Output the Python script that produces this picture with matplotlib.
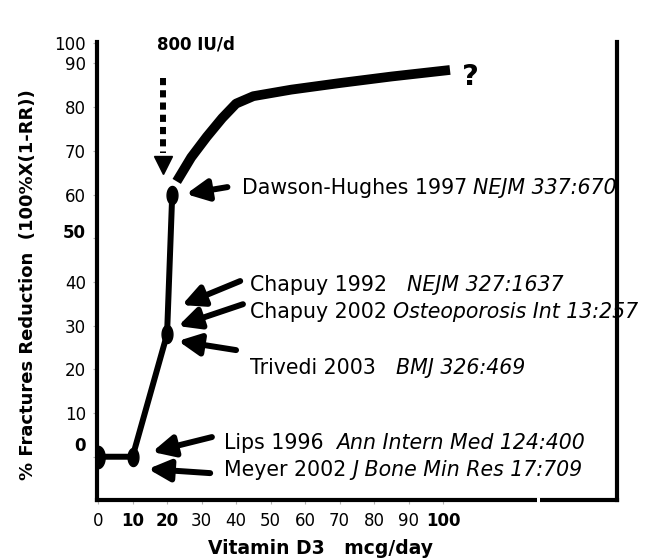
import matplotlib.pyplot as plt
import matplotlib.transforms as mtransforms
from matplotlib.path import Path
import numpy as np

# data
dose = [0, 10, 20, 21.5]          # mcg/day, measured trials
reduction = [0, 0, 28, 60]        # % fracture reduction
curve_x = [22.8, 27, 31.5, 36, 40, 45, 56, 70, 85, 102]   # extrapolated curve
curve_y = [63, 68.5, 73.2, 77.5, 80.8, 82.5, 84, 85.5, 87, 88.5]
marker_sizes = [16, 13, 13, 13]

xticks = [0, 10, 20, 30, 40, 50, 60, 70, 80, 90, 100]
yticks = [0, 10, 20, 30, 40, 50, 60, 70, 80, 90, 94.6]
ytick_labels = ['0', '10', '20', '30', '40', '50', '60', '70', '80', '90', '100']

citations = [
    # (text x, text y, plain, italic, gap pt, arrow tail, arrow tip)
    (41.7, 61.5, 'Dawson-Hughes 1997', 'NEJM 337:670', 4.5, (37.5, 61.7), (25.5, 60.1)),
    (44.1, 39.3, 'Chapuy 1992', 'NEJM 327:1637', 14, (41.2, 40.2), (24.3, 34.7)),
    (44.1, 33.1, 'Chapuy 2002', 'Osteoporosis Int 13:257', 4.5, (42.0, 34.9), (23.2, 29.9)),
    (44.1, 20.3, 'Trivedi 2003', 'BMJ 326:469', 14, (40.0, 24.4), (23.2, 26.5)),
    (36.5, 3.1, 'Lips 1996', 'Ann Intern Med 124:400', 9, (33.0, 4.5), (15.7, 1.1)),
    (36.5, -3.1, 'Meyer 2002', 'J Bone Min Res 17:709', 4.5, (32.5, -3.75), (14.5, -2.8)),
]

FS = 14.8
TFS = 12

fig = plt.figure(figsize=(6.45, 5.6), dpi=100)
ax = fig.add_axes([97 / 645, 60 / 560, 520 / 645, 458 / 560])
ax.set_xlim(-0.3, 150.4)
ax.set_ylim(-9.9, 94.9)

# vertical ellipse marker
t = np.linspace(0, 2 * np.pi, 60)
ell = Path(np.column_stack([0.6 * np.cos(t), np.sin(t)]), closed=True)

ax.plot(dose, reduction, color='black', lw=4.3, solid_capstyle='round', zorder=3)
for x, y, ms in zip(dose, reduction, marker_sizes):
    ax.plot([x], [y], marker=ell, ms=ms, color='black', ls='none', zorder=4)
ax.plot(curve_x, curve_y, color='black', lw=7, solid_capstyle='butt',
        solid_joinstyle='round', zorder=3)

# 800 IU/d dotted arrow
ax.plot([18.8, 18.8], [86.6, 69.5], color='black', lw=4.3, ls=(0, (1.2, 0.85)),
        dash_capstyle='butt')
ax.plot([18.8], [66.7], marker='v', ms=13, color='black')
ax.text(17, 94.3, '800 IU/d', fontsize=TFS, fontweight='bold', ha='left', va='center')
ax.text(107.8, 87.0, '?', fontsize=21, fontweight='bold', ha='center', va='center')

for tx, ty, plain, ital, gap, tail, tip in citations:
    t1 = ax.text(tx, ty, plain, fontsize=FS, ha='left', va='center')
    ax.annotate(ital, xy=(1, 0.5), xycoords=t1, xytext=(gap, 0),
                textcoords='offset points', fontsize=FS, style='italic',
                ha='left', va='center')
    ax.annotate('', xy=tip, xytext=tail,
                arrowprops=dict(arrowstyle='-|>,head_length=0.65,head_width=0.32',
                                lw=4.3, color='black', mutation_scale=20,
                                shrinkA=0, shrinkB=0))

for side in ['left', 'right', 'bottom']:
    ax.spines[side].set_linewidth(3)
ax.spines['top'].set_visible(False)
# scan artefact: small gap in the bottom frame
ax.plot([127.2, 128.0], [-9.9, -9.9], color='white', lw=4, clip_on=False,
        solid_capstyle='butt', zorder=5)

ax.set_xticks(xticks)
ax.set_xticklabels([str(v) for v in xticks])
ax.set_yticks(yticks, ytick_labels)
ax.tick_params(axis='both', length=3, width=0.8, color='0.7', labelsize=TFS)
ax.tick_params(axis='x', pad=6)
ax.tick_params(axis='y', pad=5)

for lbl in ax.get_xticklabels():
    if lbl.get_text() in ('10', '20', '100'):
        lbl.set_fontweight('bold')
for lbl in ax.get_yticklabels():
    if lbl.get_text() == '0':
        lbl.set_fontweight('bold')
        lbl.set_transform(lbl.get_transform() +
                          mtransforms.ScaledTranslation(0, 9.5 / 72, fig.dpi_scale_trans))
    elif lbl.get_text() == '50':
        lbl.set_fontweight('bold')
        lbl.set_transform(lbl.get_transform() +
                          mtransforms.ScaledTranslation(0, 5 / 72, fig.dpi_scale_trans))

fig.text(28 / 645, 1 - 285 / 560, '% Fractures Reduction  (100%X(1-RR))',
         rotation=90, fontsize=13, fontweight='bold', ha='center', va='center')
fig.text(320 / 645, 1 - 548 / 560, 'Vitamin D3   mcg/day',
         fontsize=13.5, fontweight='bold', ha='center', va='center')

fig.savefig('out.png', dpi=100)
